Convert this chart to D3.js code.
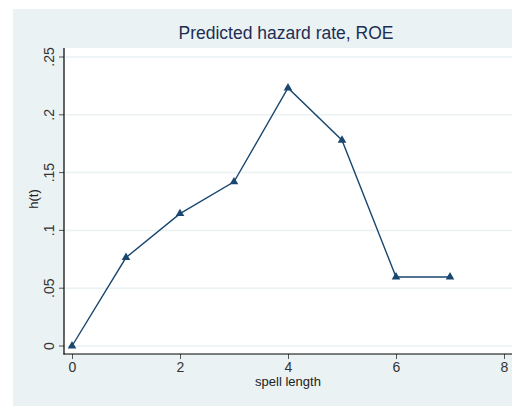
<!DOCTYPE html>
<meta charset="utf-8">
<style>
body { margin: 0; background: #fff; }
text { font-family: "Liberation Sans", Arial, sans-serif; }
</style>
<svg width="512" height="406"></svg>
<script src="https://d3js.org/d3.v7.min.js"></script>
<script>

// spell length and predicted hazard
var spell = [0, 1, 2, 3, 4, 5, 6, 7];
var hazard = [0, 0.0765, 0.1145, 0.142, 0.2232, 0.178, 0.0597, 0.0597];
var xTicks = [0, 2, 4, 6, 8];
var yTicks = [0, 0.05, 0.1, 0.15, 0.2, 0.25];
var yTickLabels = ["0", ".05", ".1", ".15", ".2", ".25"];

var svg = d3.select("svg");

// outer graph region
svg.append("rect")
    .attr("x", 13).attr("y", 9)
    .attr("width", 499).attr("height", 397)
    .attr("fill", "#eaf2f3");

var x = d3.scaleLinear().domain([0, 8]).range([72, 504]),
    y = d3.scaleLinear().domain([0, 0.25]).range([346, 57]);

// plot region
svg.append("rect")
    .attr("x", 64).attr("y", 48)
    .attr("width", 448).attr("height", 306)
    .attr("fill", "#fff");

// grid
svg.append("g").selectAll("line")
    .data(yTicks)
  .enter().append("line")
    .attr("x1", 65).attr("x2", 512)
    .attr("y1", function(d) { return y(d); })
    .attr("y2", function(d) { return y(d); })
    .attr("stroke", "#eaf2f3")
    .attr("stroke-width", 1.5);

// axes
var yAxis = d3.axisLeft(y).tickValues(yTicks).tickSize(5).tickPadding(4)
    .tickFormat(function(d, i) { return yTickLabels[i]; });
var xAxis = d3.axisBottom(x).tickValues(xTicks).tickSize(5).tickPadding(3);

var gy = svg.append("g").attr("transform", "translate(64,0)").call(yAxis);
gy.select(".domain").remove();
gy.selectAll(".tick line").attr("stroke", "#555");
gy.selectAll(".tick text")
    .attr("transform", function(d) { return "rotate(-90," + (-10) + "," + y(d) + ")"; })
    .attr("x", -10)
    .attr("y", function(d) { return y(d); })
    .attr("dy", 0)
    .attr("text-anchor", "middle")
    .attr("fill", "#333")
    .style("font-size", "14px");
gy.selectAll(".tick").attr("transform", null);
gy.selectAll(".tick line")
    .attr("y1", function(d) { return y(d); })
    .attr("y2", function(d) { return y(d); });

var gx = svg.append("g").attr("transform", "translate(0,354)").call(xAxis);
gx.select(".domain").remove();
gx.selectAll(".tick line").attr("stroke", "#555");
gx.selectAll(".tick text").attr("fill", "#333").style("font-size", "14px");

// axis lines
svg.append("line").attr("x1", 64).attr("x2", 64).attr("y1", 48).attr("y2", 354.5)
    .attr("stroke", "#000").attr("stroke-width", 1.2);
svg.append("line").attr("x1", 63.5).attr("x2", 512).attr("y1", 354).attr("y2", 354)
    .attr("stroke", "#000").attr("stroke-width", 1.2);

// series
var pts = spell.map(function(s, i) { return [s, hazard[i]]; });

svg.append("path")
    .datum(pts)
    .attr("fill", "none")
    .attr("stroke", "#1a476f")
    .attr("stroke-width", 1.4)
    .attr("d", d3.line()
      .x(function(d) { return x(d[0]); })
      .y(function(d) { return y(d[1]); }));

svg.append("g").selectAll("path")
    .data(pts)
  .enter().append("path")
    .attr("transform", function(d) { return "translate(" + x(d[0]) + "," + y(d[1]) + ")"; })
    .attr("d", d3.symbol().type(d3.symbolTriangle).size(32))
    .attr("fill", "#1a476f");

// titles
svg.append("text")
    .attr("x", 286).attr("y", 39)
    .attr("text-anchor", "middle")
    .attr("fill", "#1e2d53")
    .style("font-size", "17.5px")
    .text("Predicted hazard rate, ROE");

svg.append("text")
    .attr("x", 288).attr("y", 386)
    .attr("text-anchor", "middle")
    .attr("fill", "#222")
    .style("font-size", "13px")
    .text("spell length");

svg.append("text")
    .attr("transform", "translate(38,199) rotate(-90)")
    .attr("text-anchor", "middle")
    .attr("fill", "#222")
    .style("font-size", "13px")
    .text("h(t)");

</script>
